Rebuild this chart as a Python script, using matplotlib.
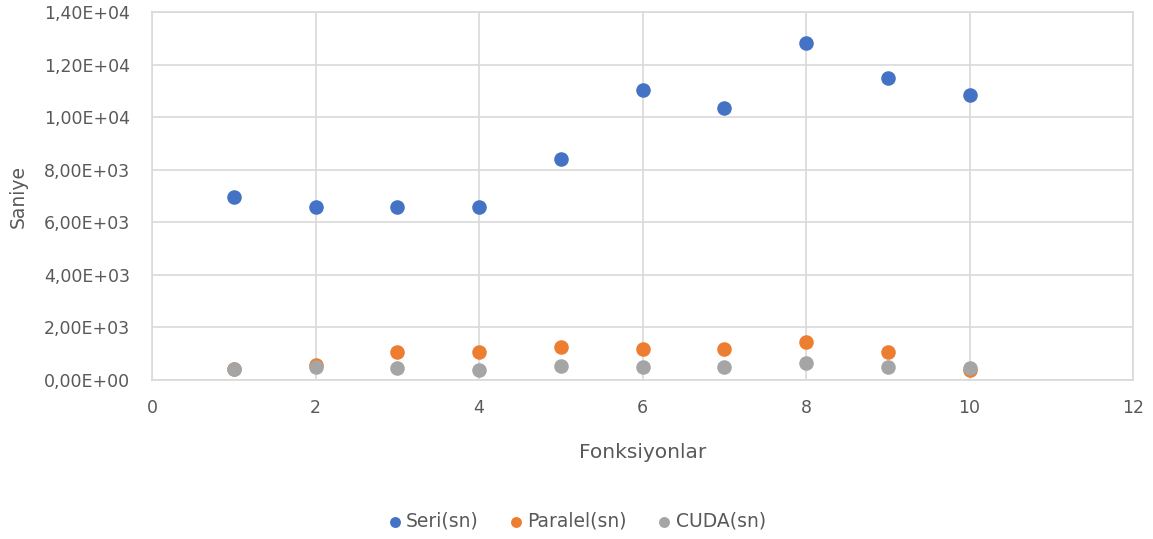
import matplotlib
matplotlib.use('Agg')
import matplotlib.pyplot as plt
from matplotlib.ticker import FuncFormatter, MultipleLocator

# Data
fonksiyon = [1, 2, 3, 4, 5, 6, 7, 8, 9, 10]
seri = [6970, 6590, 6590, 6590, 8420, 11030, 10350, 12830, 11490, 10850]
paralel = [400, 570, 1080, 1080, 1240, 1170, 1170, 1460, 1080, 380]
cuda = [410, 480, 470, 390, 550, 480, 480, 640, 480, 470]

text_color = "#595959"
grid_color = "#d9d9d9"

plt.rcParams['font.family'] = ['DejaVu Sans']

fig = plt.figure(figsize=(11.53, 5.39), dpi=100)
ax = fig.add_axes([152 / 1153, 1 - 380 / 539, (1133 - 152) / 1153, (380 - 12) / 539])

ax.scatter(fonksiyon, seri, s=110, color="#4472C4", label="Seri(sn)", zorder=3, linewidths=0)
ax.scatter(fonksiyon, paralel, s=110, color="#ED7D31", label="Paralel(sn)", zorder=4, linewidths=0)
ax.scatter(fonksiyon, cuda, s=110, color="#A5A5A5", label="CUDA(sn)", zorder=5, linewidths=0)

ax.set_xlim(0, 12)
ax.set_ylim(0, 14000)
ax.xaxis.set_major_locator(MultipleLocator(2))
ax.yaxis.set_major_locator(MultipleLocator(2000))
ax.yaxis.set_major_formatter(FuncFormatter(lambda v, p: f"{v:.2E}".replace('.', ',')))

ax.grid(True, color=grid_color, linewidth=1.2, zorder=0)
ax.set_axisbelow(True)
for sp in ax.spines.values():
    sp.set_color(grid_color)
    sp.set_linewidth(1.2)
ax.tick_params(length=0, colors=text_color, labelsize=12.5)
ax.tick_params(axis='y', pad=16)
ax.tick_params(axis='x', pad=14)

ax.set_xlabel("Fonksiyonlar", color=text_color, fontsize=14.5)
ax.xaxis.set_label_coords(0.5, (380 - 443) / 368)
ax.set_ylabel("Saniye", color=text_color, fontsize=13.5)
ax.yaxis.set_label_coords((28 - 152) / 981, 0.5)

fig.legend(loc="center", bbox_to_anchor=(0.5, 1 - 521 / 539), ncol=3, frameon=False,
           fontsize=13.5, labelcolor=text_color, handlelength=0.8, handletextpad=0.2,
           columnspacing=1.6, markerscale=0.75)

plt.savefig("out.png", dpi=100)
